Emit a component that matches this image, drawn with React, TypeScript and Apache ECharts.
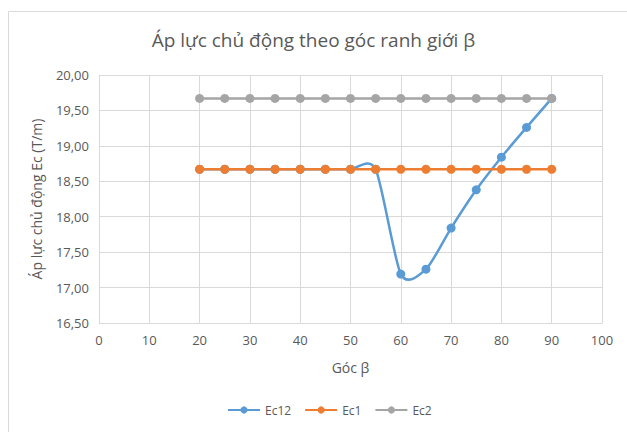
import React, { useEffect, useRef } from "react";
import * as echarts from "echarts";

const betaValues = [20, 25, 30, 35, 40, 45, 50, 55, 60, 65, 70, 75, 80, 85, 90];
const ec12 = [18.67, 18.67, 18.67, 18.67, 18.67, 18.67, 18.67, 18.67, 17.19, 17.26, 17.84, 18.38, 18.84, 19.26, 19.67];
const ec1 = [18.67, 18.67, 18.67, 18.67, 18.67, 18.67, 18.67, 18.67, 18.67, 18.67, 18.67, 18.67, 18.67, 18.67, 18.67];
const ec2 = [19.67, 19.67, 19.67, 19.67, 19.67, 19.67, 19.67, 19.67, 19.67, 19.67, 19.67, 19.67, 19.67, 19.67, 19.67];
const seriesNames = ["Ec12", "Ec1", "Ec2"];
const seriesColors = ["#5b9bd5", "#ed7d31", "#a5a5a5"];

const FONT = "'Open Sans', 'Noto Sans', sans-serif";
const TXT = "#595959";

export default function App() {
  const ref = useRef<HTMLDivElement>(null);
  useEffect(() => {
    if (!ref.current) return;
    const chart = echarts.init(ref.current, undefined, { renderer: "svg" });
    const pair = (arr: number[]) => betaValues.map((b, i) => [b, arr[i]]);
    const mk = (name: string, data: number[], color: string, hideLine: boolean) => ({
      name,
      type: "line",
      data: pair(data),
      symbol: "circle",
      symbolSize: 9,
      showSymbol: true,
      lineStyle: { color, width: 2.5, opacity: hideLine ? 0 : 1 },
      itemStyle: { color },
      z: 3,
    });
    // Cardinal-spline smoothed curve (like Excel's smoothed line), through the chart's own coordinates
    const K = 1 / 8;
    const curveSeries = {
      name: "Ec12-curve",
      type: "custom",
      coordinateSystem: "cartesian2d",
      data: [[betaValues[0], ec12[0]]],
      z: 2,
      silent: true,
      renderItem: (params: any, api: any) => {
        if (params.dataIndex !== 0) return null;
        const pts = betaValues.map((b, i) => api.coord([b, ec12[i]]));
        let d = `M${pts[0][0]},${pts[0][1]}`;
        for (let i = 0; i < pts.length - 1; i++) {
          const p0 = pts[Math.max(0, i - 1)];
          const p1 = pts[i];
          const p2 = pts[i + 1];
          const p3 = pts[Math.min(pts.length - 1, i + 2)];
          const c1x = p1[0] + (p2[0] - p0[0]) * K;
          const c1y = p1[1] + (p2[1] - p0[1]) * K;
          const c2x = p2[0] - (p3[0] - p1[0]) * K;
          const c2y = p2[1] - (p3[1] - p1[1]) * K;
          d += ` C${c1x},${c1y} ${c2x},${c2y} ${p2[0]},${p2[1]}`;
        }
        return {
          type: "path",
          shape: { pathData: d },
          style: { stroke: seriesColors[0], lineWidth: 2.5, fill: "none" },
        };
      },
    };
    chart.setOption({
      animation: false,
      backgroundColor: "#ffffff",
      textStyle: { fontFamily: FONT },
      title: {
        text: "Áp lực chủ động theo góc ranh giới β",
        left: "center",
        top: 25,
        textStyle: { fontFamily: FONT, fontSize: 19, fontWeight: "normal", color: TXT },
      },
      graphic: [
        {
          type: "polyline",
          shape: { points: [[8.5, 432], [8.5, 11.5], [627, 11.5]] },
          style: { stroke: "#d9d9d9", fill: "none", lineWidth: 1 },
          silent: true,
        },
      ],
      legend: {
        bottom: 11,
        left: 222,
        itemWidth: 32,
        itemHeight: 9,
        itemGap: 13,
        data: [
          { name: seriesNames[0], lineStyle: { opacity: 1, color: seriesColors[0] } },
          seriesNames[1],
          seriesNames[2],
        ],
        textStyle: { fontFamily: FONT, fontSize: 12, color: TXT },
      },
      grid: { left: 99, right: 25, top: 75, bottom: 109, containLabel: false },
      xAxis: {
        type: "value",
        min: 0,
        max: 100,
        interval: 10,
        name: "Góc β",
        nameLocation: "middle",
        nameGap: 37,
        nameTextStyle: { fontFamily: FONT, fontSize: 14, color: TXT },
        axisLine: { show: true, lineStyle: { color: "#d9d9d9" } },
        axisTick: { show: false },
        axisLabel: { color: TXT, fontSize: 13, fontFamily: FONT, margin: 10 },
        splitLine: { show: true, lineStyle: { color: "#d9d9d9", width: 1 } },
      },
      yAxis: {
        type: "value",
        min: 16.5,
        max: 20,
        interval: 0.5,
        name: "Áp lực chủ động Ec (T/m)",
        nameLocation: "middle",
        nameGap: 56,
        nameRotate: 90,
        nameTextStyle: { fontFamily: FONT, fontSize: 14, color: TXT },
        axisLine: { show: false },
        axisTick: { show: false },
        axisLabel: {
          color: TXT,
          fontSize: 13,
          fontFamily: FONT,
          margin: 10,
          formatter: (v: number) => v.toFixed(2).replace(".", ","),
        },
        splitLine: { show: true, lineStyle: { color: "#d9d9d9", width: 1 } },
      },
      series: [
        curveSeries,
        mk(seriesNames[0], ec12, seriesColors[0], true),
        mk(seriesNames[1], ec1, seriesColors[1], false),
        mk(seriesNames[2], ec2, seriesColors[2], false),
      ],
    });
    return () => chart.dispose();
  }, []);
  return <div ref={ref} style={{ width: 627, height: 432, position: "absolute", left: 0, top: 0 }} />;
}
